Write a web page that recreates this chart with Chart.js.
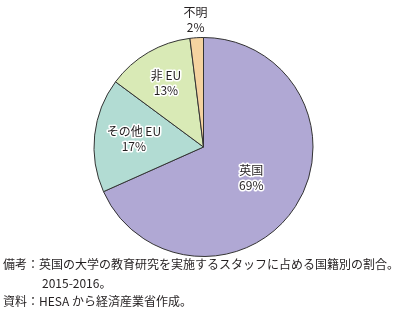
<!DOCTYPE html>
<html>
<head>
<meta charset="utf-8">
<script src="https://cdn.jsdelivr.net/npm/chart.js@4"></script>
<style>
  html, body { margin: 0; padding: 0; background: #fff; }
  #wrap { position: relative; width: 403px; height: 312px; }
  canvas { position: absolute; left: 0; top: 0; }
  .note {
    position: absolute; left: 3px; font-size: 12px; line-height: 12px;
    font-family: "Noto Sans CJK JP", sans-serif; color: #231f20; white-space: nowrap;
  }
</style>
</head>
<body>
<div id="wrap">
  <canvas id="pieChart" width="403" height="312"></canvas>
  <div class="note" style="top:258px">備考：英国の大学の教育研究を実施するスタッフに占める国籍別の割合。</div>
  <div class="note" style="top:277px; left:42px">2015-2016。</div>
  <div class="note" style="top:295px">資料：HESA から経済産業省作成。</div>
</div>
<script>
const categories = ['英国', 'その他 EU', '非 EU', '不明'];
const shares = [69, 17, 13, 2];
const sliceColors = ['#b0a8d4', '#b2dcd3', '#d9eab6', '#f5d3a0'];

// how far out each label sits, as a fraction of the radius
const labelRadius = [0.52, 0.64, 0.68, 1.16];

const sliceLabels = {
    id: 'sliceLabels',
    afterDatasetsDraw(chart) {
        const ctx = chart.ctx;
        const meta = chart.getDatasetMeta(0);
        ctx.save();
        ctx.font = '12px "Noto Sans CJK JP", sans-serif';
        ctx.textAlign = 'center';
        ctx.textBaseline = 'middle';
        ctx.lineJoin = 'round';
        meta.data.forEach((arc, i) => {
            const mid = (arc.startAngle + arc.endAngle) / 2;
            const r = arc.outerRadius * labelRadius[i];
            const x = arc.x + Math.cos(mid) * r;
            const y = arc.y + Math.sin(mid) * r;
            const lines = [categories[i], shares[i] + '%'];
            lines.forEach((t, k) => {
                const ty = y + (k - 0.5) * 15;
                ctx.strokeStyle = '#fff';
                ctx.lineWidth = 3;
                ctx.strokeText(t, x, ty);
                ctx.fillStyle = '#231f20';
                ctx.fillText(t, x, ty);
            });
        });
        ctx.restore();
    }
};

new Chart(document.getElementById('pieChart'), {
    type: 'pie',
    data: {
        labels: categories,
        datasets: [{
            data: shares,
            backgroundColor: sliceColors,
            borderColor: '#333',
            borderWidth: 1
        }]
    },
    options: {
        responsive: false,
        animation: false,
        layout: { padding: { top: 37, left: 93, right: 89, bottom: 55 } },
        plugins: {
            legend: { display: false },
            tooltip: { enabled: false }
        }
    },
    plugins: [sliceLabels]
});
</script>
</body>
</html>
